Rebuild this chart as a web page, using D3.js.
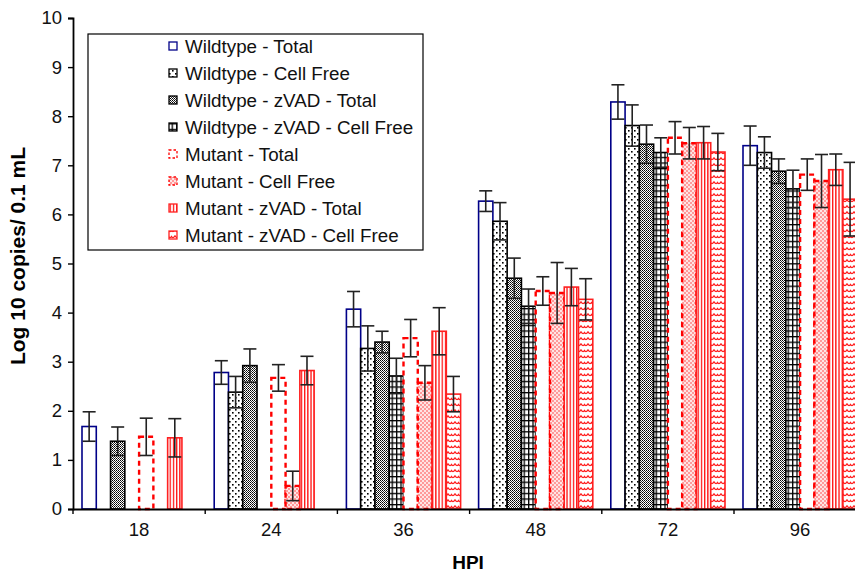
<!DOCTYPE html>
<html><head><meta charset="utf-8">
<script src="https://cdn.jsdelivr.net/npm/d3@7"></script>
<style>body{margin:0;background:#fff}svg{display:block}text{font-family:"Liberation Sans",Arial,sans-serif}</style>
</head><body><svg id="c" width="855" height="575"></svg>
<script>
const categories = ["18","24","36","48","72","96"];
const seriesNames = ["Wildtype - Total","Wildtype - Cell Free","Wildtype - zVAD - Total","Wildtype - zVAD - Cell Free","Mutant - Total","Mutant - Cell Free","Mutant - zVAD - Total","Mutant - zVAD - Cell Free"];
const wtTotal      = [1.68, 2.78, 4.07, 6.27, 8.29, 7.40];
const wtCellFree   = [null, 2.38, 3.27, 5.86, 7.81, 7.26];
const wtZvadTotal  = [1.38, 2.92, 3.40, 4.70, 7.43, 6.88];
const wtZvadCF     = [null, null, 2.71, 4.13, 7.26, 6.52];
const mutTotal     = [1.47, 2.67, 3.48, 4.44, 7.56, 6.81];
const mutCellFree  = [null, 0.47, 2.57, 4.40, 7.45, 6.68];
const mutZvadTotal = [1.45, 2.82, 3.62, 4.52, 7.46, 6.91];
const mutZvadCF    = [null, null, 2.34, 4.27, 7.27, 6.31];
const errWtTotal      = [0.30, 0.24, 0.36, 0.21, 0.35, 0.40];
const errWtCellFree   = [null, 0.32, 0.46, 0.38, 0.42, 0.32];
const errWtZvadTotal  = [0.29, 0.34, 0.22, 0.41, 0.39, 0.25];
const errWtZvadCF     = [null, null, 0.36, 0.35, 0.30, 0.38];
const errMutTotal     = [0.38, 0.27, 0.38, 0.29, 0.33, 0.32];
const errMutCellFree  = [null, 0.30, 0.35, 0.62, 0.32, 0.54];
const errMutZvadTotal = [0.39, 0.29, 0.48, 0.38, 0.33, 0.32];
const errMutZvadCF    = [null, null, 0.36, 0.42, 0.38, 0.75];
const yTicks = [0,1,2,3,4,5,6,7,8,9,10];

const values = [wtTotal, wtCellFree, wtZvadTotal, wtZvadCF, mutTotal, mutCellFree, mutZvadTotal, mutZvadCF];
const errors = [errWtTotal, errWtCellFree, errWtZvadTotal, errWtZvadCF, errMutTotal, errMutCellFree, errMutZvadTotal, errMutZvadCF];

const svg = d3.select("#c");
const defs = svg.append("defs");
function pat(id, w, h, draw){
  const p = defs.append("pattern").attr("id", id).attr("patternUnits","userSpaceOnUse").attr("width", w).attr("height", h);
  p.append("rect").attr("width", w).attr("height", h).attr("fill", "#fff");
  draw(p);
}
pat("pDots", 6, 6, p => {
  p.append("rect").attr("x",1).attr("y",1).attr("width",1.6).attr("height",1.6).attr("fill","#000");
  p.append("rect").attr("x",4).attr("y",4).attr("width",1.6).attr("height",1.6).attr("fill","#000");
});
pat("pChk", 2, 2, p => {
  p.append("rect").attr("x",0).attr("y",0).attr("width",1).attr("height",1).attr("fill","#000");
  p.append("rect").attr("x",1).attr("y",1).attr("width",1).attr("height",1).attr("fill","#333");
});
pat("pGrid", 4.4, 5.6, p => {
  p.append("rect").attr("x",0).attr("y",0).attr("width",4.4).attr("height",1.3).attr("fill","#000");
  p.append("rect").attr("x",0).attr("y",0).attr("width",1.3).attr("height",5.6).attr("fill","#000");
});
pat("pPink", 4, 4, p => {
  p.select("rect").attr("fill","#ffe4e4");
  p.append("rect").attr("x",0).attr("y",0).attr("width",2).attr("height",2).attr("fill","#ff9a9a");
  p.append("rect").attr("x",2).attr("y",2).attr("width",2).attr("height",2).attr("fill","#ff9a9a");
});
pat("pVert", 3.2, 4, p => {
  p.append("rect").attr("x",0).attr("y",0).attr("width",1.3).attr("height",4).attr("fill","#ff1010");
});
pat("pWave", 7, 6, p => {
  p.append("path").attr("d","M0,1.5 Q1.75,5 3.5,2.5 Q5.25,5 7,1.5").attr("fill","none").attr("stroke","#ff1a1a").attr("stroke-width",1.3);
});

const styles = [
  {fill:"#fff", stroke:"#000088", sw:1.6, dash:null},
  {fill:"url(#pDots)", stroke:"#000", sw:1.6, dash:null},
  {fill:"url(#pChk)", stroke:"#000", sw:1.6, dash:null},
  {fill:"url(#pGrid)", stroke:"#000", sw:1.6, dash:null},
  {fill:"#fff", stroke:"#ff0000", sw:2.4, dash:"5,4"},
  {fill:"url(#pPink)", stroke:"#ff0000", sw:2.4, dash:"5,4"},
  {fill:"url(#pVert)", stroke:"#ff2020", sw:1.6, dash:null},
  {fill:"url(#pWave)", stroke:"#ff2020", sw:1.6, dash:null}
];

const y = d3.scaleLinear().domain([0,10]).range([509,18]);
const x0 = d3.scaleBand().domain(categories).range([73, 73 + 6*132.2]).padding(0);
const x1 = d3.scaleBand().domain(d3.range(seriesNames.length)).range([9, x0.bandwidth()-9]).padding(0);

// bars
const barsG = svg.append("g");
seriesNames.forEach((name, si) => {
  const st = styles[si];
  const data = categories.map((c,i)=>({c, v: values[si][i], e: errors[si][i]})).filter(d=>d.v!=null);
  barsG.append("g").selectAll("rect").data(data).join("rect")
    .attr("x", d => x0(d.c) + x1(si))
    .attr("y", d => y(d.v))
    .attr("width", x1.bandwidth())
    .attr("height", d => y(0) - y(d.v))
    .attr("fill", st.fill)
    .attr("stroke", st.stroke)
    .attr("stroke-width", st.sw)
    .attr("stroke-dasharray", st.dash);
});
// error bars
const errG = svg.append("g").attr("stroke","#222").attr("stroke-width",1.6).attr("fill","none");
seriesNames.forEach((name, si) => {
  categories.forEach((c,i) => {
    const v = values[si][i], e = errors[si][i];
    if (v == null || e == null) return;
    const cx = x0(c) + x1(si) + x1.bandwidth()/2;
    errG.append("line").attr("x1",cx).attr("x2",cx).attr("y1",y(v+e)).attr("y2",y(Math.max(0,v-e)));
    errG.append("line").attr("x1",cx-6.5).attr("x2",cx+6.5).attr("y1",y(v+e)).attr("y2",y(v+e));
    errG.append("line").attr("x1",cx-6.5).attr("x2",cx+6.5).attr("y1",y(Math.max(0,v-e))).attr("y2",y(Math.max(0,v-e)));
  });
});

// y axis
const yAxis = svg.append("g").attr("transform","translate(73,0)")
  .call(d3.axisLeft(y).tickValues(yTicks).tickSize(5).tickPadding(6).tickFormat(d3.format("d")));
yAxis.select(".domain").attr("stroke","#000").attr("stroke-width",1.8);
yAxis.selectAll(".tick line").attr("stroke","#000").attr("stroke-width",1.4);
yAxis.selectAll("text").attr("font-size",18.5).attr("fill","#111").style("font-family","'Liberation Sans',Arial,sans-serif");

// x axis
const xAxis = svg.append("g").attr("transform","translate(0,509)")
  .call(d3.axisBottom(x0).tickSize(0).tickPadding(14));
xAxis.select(".domain").attr("stroke","#000").attr("stroke-width",1.8);
xAxis.selectAll("text").attr("font-size",18.5).attr("fill","#111").style("font-family","'Liberation Sans',Arial,sans-serif");
const bounds = categories.map(c => x0(c)).concat([x0(categories[categories.length-1]) + x0.bandwidth()]);
svg.append("g").selectAll("line").data(bounds).join("line")
  .attr("x1", d=>d).attr("x2", d=>d).attr("y1",509).attr("y2",514)
  .attr("stroke","#000").attr("stroke-width",1.4);

// titles
svg.append("text").attr("x",468).attr("y",569).attr("text-anchor","middle")
  .attr("font-size",19).attr("font-weight","bold").text("HPI");
svg.append("text").attr("transform","translate(25,256) rotate(-90)").attr("text-anchor","middle")
  .attr("font-size",21).attr("font-weight","bold").text("Log 10 copies/ 0.1 mL");

// legend
const lg = svg.append("g");
lg.append("rect").attr("x",88).attr("y",34).attr("width",335).attr("height",216)
  .attr("fill","#fff").attr("stroke","#000").attr("stroke-width",1.2);
const rowY = d => 46.5 + d*27;
seriesNames.forEach((name, si) => {
  const st = styles[si];
  lg.append("rect").attr("x",169).attr("y",rowY(si)-4.5).attr("width",8).attr("height",8)
    .attr("fill", st.fill).attr("stroke", st.stroke).attr("stroke-width",1.3)
    .attr("stroke-dasharray", st.dash ? "2.5,2" : null);
  lg.append("text").attr("x",185).attr("y",rowY(si)).attr("dy","0.35em")
    .attr("font-size",18.8).attr("fill","#111").text(name);
});
</script></body></html>
